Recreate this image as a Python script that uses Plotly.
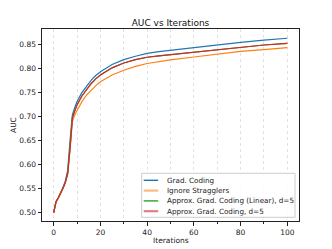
import plotly.graph_objects as go

iterations = [0, 1, 2, 3, 4, 5, 6, 7, 8, 9, 10, 12, 14, 16, 18, 20, 25, 30, 35, 40, 45, 50, 60, 70, 80, 90, 100]

grad_coding = [0.500, 0.523, 0.531, 0.541, 0.553, 0.566, 0.588, 0.650, 0.703, 0.718, 0.731, 0.749, 0.763, 0.775, 0.785,
               0.793, 0.808, 0.818, 0.825, 0.831, 0.8345, 0.8375, 0.8435, 0.849, 0.854, 0.8585, 0.8625]
ignore_stragglers = [0.500, 0.522, 0.530, 0.539, 0.550, 0.562, 0.580, 0.630, 0.690, 0.703, 0.713, 0.730, 0.744, 0.755, 0.764,
                     0.772, 0.786, 0.796, 0.804, 0.810, 0.814, 0.8175, 0.8235, 0.8295, 0.835, 0.839, 0.843]
approx_linear = [0.500, 0.523, 0.531, 0.540, 0.551, 0.563, 0.582, 0.635, 0.697, 0.711, 0.724, 0.742, 0.756, 0.768, 0.778,
                 0.786, 0.801, 0.811, 0.818, 0.823, 0.826, 0.8285, 0.834, 0.8395, 0.8445, 0.8485, 0.852]
approx_d5 = [0.500, 0.523, 0.531, 0.540, 0.551, 0.563, 0.582, 0.635, 0.697, 0.711, 0.724, 0.742, 0.756, 0.768, 0.778,
             0.786, 0.801, 0.811, 0.818, 0.823, 0.826, 0.8285, 0.834, 0.8395, 0.8445, 0.8485, 0.852]

series = [
    ("Grad. Coding", grad_coding, "#1f77b4", "#1f77b4"),
    ("Ignore Stragglers", ignore_stragglers, "#ff7f0e", "rgba(255,127,14,0.55)"),
    ("Approx. Grad. Coding (Linear), d=5", approx_linear, "#2ca02c", "#2ca02c"),
    ("Approx. Grad. Coding, d=5", approx_d5, "#d62728", "rgba(214,39,40,0.6)"),
]

x_ticks = [0, 20, 40, 60, 80, 100]
x_minor_ticks = [10, 30, 50, 70, 90]
y_ticks = [0.50, 0.55, 0.60, 0.65, 0.70, 0.75, 0.80, 0.85]

W, H = 332, 249
ML, MR, MT, MB = 42, 33, 29, 28
PW, PH = W - ML - MR, H - MT - MB

fig = go.Figure()
for name, vals, color, _ in series:
    fig.add_trace(go.Scatter(x=iterations, y=vals, mode="lines", name=name,
                             line=dict(color=color, width=1.2), showlegend=False))

# custom compact legend (matplotlib style), in paper coordinates
leg_left, leg_right, leg_top, leg_bottom = 141.7, 295, 173.3, 217.3
def px_x(p):
    return (p - ML) / PW
def px_y(p):
    return 1 - (p - MT) / PH

shapes = [dict(type="rect", xref="paper", yref="paper",
               x0=px_x(leg_left), x1=px_x(leg_right), y0=px_y(leg_bottom), y1=px_y(leg_top),
               line=dict(color="#cccccc", width=1), fillcolor="rgba(255,255,255,0.85)", layer="above")]
annotations = []
for i, (name, _, _, legcolor) in enumerate(series):
    yc = leg_top + 7 + i * 10.3
    shapes.append(dict(type="line", xref="paper", yref="paper",
                       x0=px_x(leg_left + 2), x1=px_x(leg_left + 16.5), y0=px_y(yc), y1=px_y(yc),
                       line=dict(color=legcolor, width=1.4 if legcolor.startswith("#") else 2.2), layer="above"))
    annotations.append(dict(text=name, xref="paper", yref="paper", x=px_x(leg_left + 23), y=px_y(yc),
                            xanchor="left", yanchor="middle", showarrow=False,
                            font=dict(size=7.2, color="#222")))

# axis titles placed like matplotlib
annotations.append(dict(text="Iterations", xref="paper", yref="paper", x=0.5, y=px_y(240),
                        xanchor="center", yanchor="middle", showarrow=False,
                        font=dict(size=7.5, color="#222")))
annotations.append(dict(text="AUC", xref="paper", yref="paper", x=px_x(13), y=0.5, textangle=-90,
                        xanchor="center", yanchor="middle", showarrow=False,
                        font=dict(size=7.5, color="#222")))

font = "DejaVu Sans, sans-serif"
grid_col = "#e2e2e2"
fig.update_layout(
    width=W, height=H,
    margin=dict(l=ML, r=MR, t=MT, b=MB, autoexpand=False),
    paper_bgcolor="white", plot_bgcolor="white",
    font=dict(family=font, size=7.5, color="#222"),
    title=dict(text="AUC vs Iterations", x=(ML + PW / 2) / W, xanchor="center",
               y=1 - 22.7 / H, yref="container", yanchor="middle",
               font=dict(size=9, color="#111")),
    showlegend=False,
    shapes=shapes,
    annotations=annotations,
)
fig.update_xaxes(
    range=[-5, 105], tickvals=x_ticks, ticks="outside", ticklen=3.5, tickwidth=0.8,
    tickcolor="#222", showline=True, linecolor="#222", linewidth=1, mirror=True,
    showgrid=True, gridcolor=grid_col, griddash="dot", gridwidth=0.7, zeroline=False,
    automargin=False,
    minor=dict(tickvals=x_minor_ticks, ticks="outside", ticklen=2, tickcolor="#222",
               showgrid=True, gridcolor=grid_col, griddash="dot", gridwidth=0.7),
)
fig.update_yaxes(
    range=[0.4827, 0.8817], tickvals=y_ticks, tickformat=".2f", ticks="outside", ticklen=3.5,
    tickwidth=0.8, tickcolor="#222", showline=True, linecolor="#222", linewidth=1, mirror=True,
    showgrid=False, zeroline=False, automargin=False,
)

fig.write_html("out.html", config={"displayModeBar": False},
               post_script="document.body.style.margin='0';document.body.style.padding='0';")
